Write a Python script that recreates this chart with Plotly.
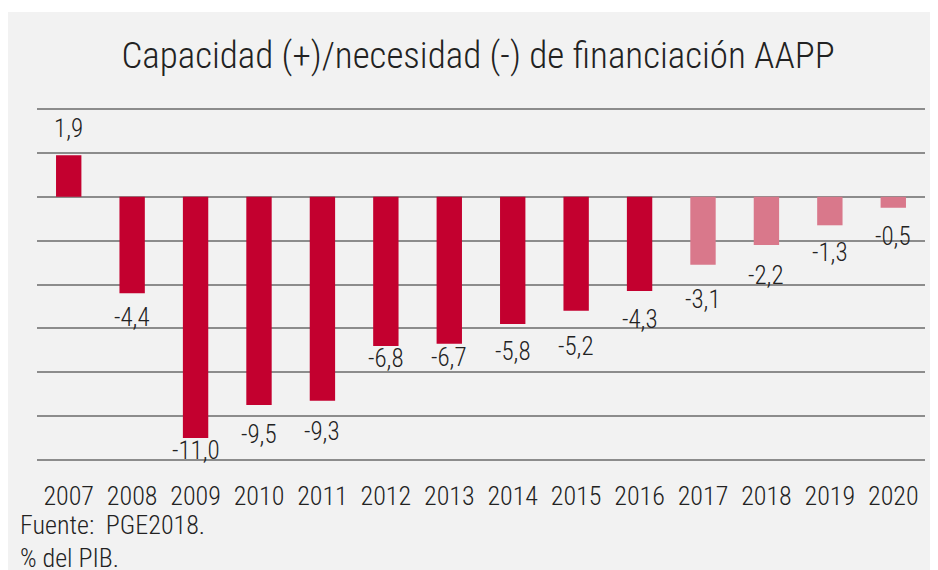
import plotly.graph_objects as go

years = ["2007", "2008", "2009", "2010", "2011", "2012", "2013", "2014",
         "2015", "2016", "2017", "2018", "2019", "2020"]
values = [1.9, -4.4, -11.0, -9.5, -9.3, -6.8, -6.7, -5.8, -5.2, -4.3,
          -3.1, -2.2, -1.3, -0.5]
is_forecast = [False] * 10 + [True] * 4

# distance (px) between bar end and the centre of its value label
label_gap = [27, 24, 13, 29, 31, 13, 14, 28, 36, 28, 35, 30, 27, 29]

DARK = "#C3002F"
LIGHT = "#D9788B"
TEXT = "#222222"
FONT = "Roboto Condensed"
colors = [LIGHT if f else DARK for f in is_forecast]

# page has an 8px body margin, so figure is 930x562
W, H = 930, 562
L, R, T, B = 29, 13, 100, 109
pw, ph = W - L - R, H - T - B

fig = go.Figure()
fig.add_trace(go.Bar(
    x=years, y=values, marker=dict(color=colors, line=dict(width=0)),
    showlegend=False, hoverinfo="x+y",
))

for i, (v, g) in enumerate(zip(values, label_gap)):
    fig.add_annotation(
        x=i, y=v, text=f"{v:.1f}".replace(".", ","), showarrow=False,
        xanchor="center", yanchor="middle", yshift=g if v >= 0 else -g,
        font=dict(family=FONT, size=25, color=TEXT, weight=300),
    )

fig.update_layout(
    width=W, height=H,
    margin=dict(l=L, r=R, t=T, b=B, pad=0, autoexpand=False),
    paper_bgcolor="white", plot_bgcolor="rgba(0,0,0,0)",
    bargap=0.6,
    title=dict(text="Capacidad (+)/necesidad (-) de financiación AAPP",
               x=470 / W, xanchor="center", y=1 - 47 / H, yanchor="middle",
               font=dict(family=FONT, size=37, color=TEXT, weight=300)),
    xaxis=dict(type="category", range=[-0.5, len(years) - 0.5],
               showgrid=False, showline=False, zeroline=False,
               ticks="", ticklabelstandoff=17, automargin=False,
               tickfont=dict(family=FONT, size=26, color=TEXT, weight=300)),
    yaxis=dict(range=[-12.05, 4.05], dtick=2, tick0=0, showticklabels=False,
               showgrid=True, gridcolor="#8c8c8c", gridwidth=2, zeroline=True,
               zerolinecolor="#8c8c8c", zerolinewidth=2, showline=False,
               automargin=False),
    font=dict(family=FONT),
)

# light gray background panel
fig.add_shape(type="rect", xref="paper", yref="paper", layer="below",
              x0=(0 - L) / pw, x1=(W - L + 5) / pw,
              y0=(H - B - H - 5) / ph, y1=(H - B - 4) / ph,
              fillcolor="#F2F2F2", line=dict(width=0))

fig.add_annotation(text="Fuente:  PGE2018.", xref="paper", yref="paper",
                   x=(10 - L) / pw, y=(H - B - 517) / ph, xanchor="left",
                   yanchor="middle", showarrow=False,
                   font=dict(family=FONT, size=26, color=TEXT, weight=300))
fig.add_annotation(text="% del PIB.", xref="paper", yref="paper",
                   x=(10 - L) / pw, y=(H - B - 550) / ph, xanchor="left",
                   yanchor="middle", showarrow=False,
                   font=dict(family=FONT, size=26, color=TEXT, weight=300))

fig.write_html("out.html")
